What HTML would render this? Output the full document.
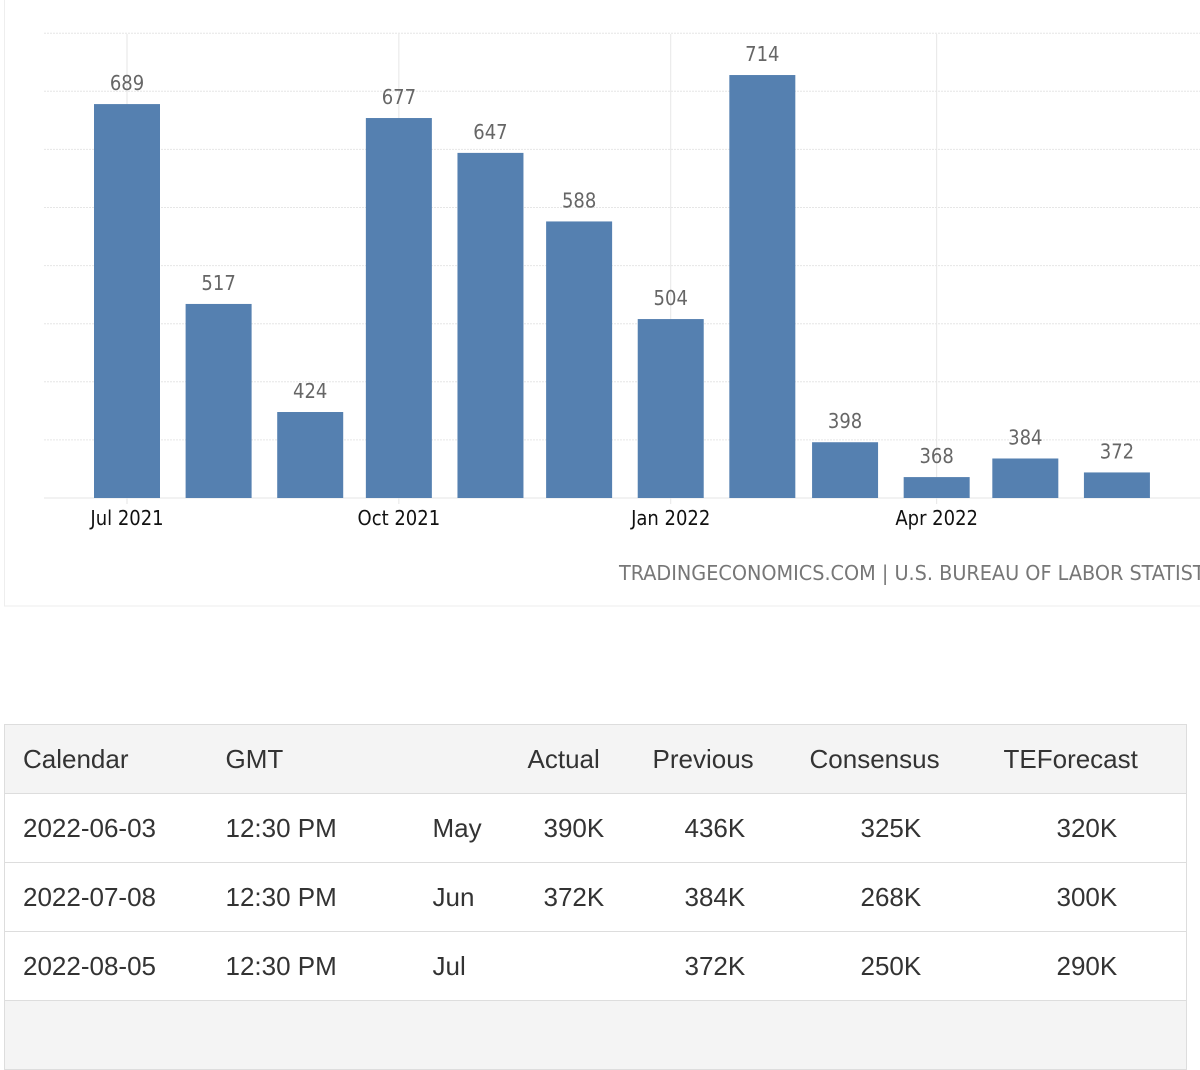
<!DOCTYPE html>
<html><head><meta charset="utf-8">
<style>
body{margin:0;width:1200px;height:1013px;background:#fff;overflow:hidden;position:relative;font-family:"Liberation Sans",sans-serif}
#chart{position:absolute;left:0;top:0}
table{position:absolute;left:4px;top:724px;width:1183px;table-layout:fixed;border-collapse:collapse;font-size:26px;color:#333;border:1px solid #ddd}
td,th{font-weight:normal;height:68px;border-top:1px solid #ddd;padding:0;text-align:left;white-space:nowrap}
thead tr{background:#f4f4f4}
</style></head><body>
<svg id="chart" width="1200" height="620" xmlns="http://www.w3.org/2000/svg">
<rect x="4.5" y="-2" width="1300" height="608" fill="none" stroke="#eee"/>
<g id="grid"></g><g id="bars"></g><g id="xlab"></g>
<text x="619" y="580" textLength="617" lengthAdjust="spacingAndGlyphs" font-family="DejaVu Sans Condensed, Liberation Sans Narrow, sans-serif" font-size="20" fill="#777">TRADINGECONOMICS.COM | U.S. BUREAU OF LABOR STATISTICS</text>
</svg>
<table>
<colgroup><col style="width:203px"><col style="width:205px"><col style="width:98px"><col style="width:125px"><col style="width:155px"><col style="width:195px"><col></colgroup>
<thead><tr><th style="padding-left:18px">Calendar</th><th style="padding-left:18px">GMT</th><th></th><th style="padding-left:17px">Actual</th><th style="padding-left:17px">Previous</th><th style="padding-left:19px">Consensus</th><th style="padding-left:18px">TEForecast</th></tr></thead>
<tbody>
<tr><td style="padding-left:18px">2022-06-03</td><td style="padding-left:18px">12:30 PM</td><td style="padding-left:20px">May</td><td style="padding-left:33px">390K</td><td style="padding-left:49px">436K</td><td style="padding-left:70px">325K</td><td style="padding-left:71px">320K</td></tr>
<tr><td style="padding-left:18px">2022-07-08</td><td style="padding-left:18px">12:30 PM</td><td style="padding-left:20px">Jun</td><td style="padding-left:33px">372K</td><td style="padding-left:49px">384K</td><td style="padding-left:70px">268K</td><td style="padding-left:71px">300K</td></tr>
<tr><td style="padding-left:18px">2022-08-05</td><td style="padding-left:18px">12:30 PM</td><td style="padding-left:20px">Jul</td><td></td><td style="padding-left:49px">372K</td><td style="padding-left:70px">250K</td><td style="padding-left:71px">290K</td></tr>
<tr style="background:#f4f4f4"><td colspan="7"></td></tr>
</tbody></table>
<script>
const months=["2021-07-01","2021-08-01","2021-09-01","2021-10-01","2021-11-01","2021-12-01","2022-01-01","2022-02-01","2022-03-01","2022-04-01","2022-05-01","2022-06-01"];
const values=[689,517,424,677,647,588,504,714,398,368,384,372];
const yTicks=[350,400,450,500,550,600,650,700,750];
const xTicks=["2021-07-01","2021-10-01","2022-01-01","2022-04-01"];
const xTickLabels=["Jul 2021","Oct 2021","Jan 2022","Apr 2022"];
const NS="http://www.w3.org/2000/svg";
const t0=Date.parse("2021-07-01");
function x(d){return 127+(Date.parse(d)-t0)/86400000*2.955;}
function y(v){return 498-(v-350)*1.162;}
function mk(tag,attrs,parent){const e=document.createElementNS(NS,tag);for(const k in attrs)e.setAttribute(k,attrs[k]);parent.appendChild(e);return e;}
const grid=document.getElementById('grid'),bars=document.getElementById('bars'),xlab=document.getElementById('xlab');
yTicks.forEach(v=>{const l=mk('line',{x1:44,x2:1200,y1:y(v),y2:y(v),stroke:'#e6e6e6','stroke-dasharray':v===350?'':'2,1'},grid);

});
xTicks.forEach((d,i)=>{const l=mk('line',{x1:x(d),x2:x(d),y1:34,y2:504,stroke:'#e6e6e6'},grid);


const t=mk('text',{x:x(d),y:525,'text-anchor':'middle','font-family':'DejaVu Sans Condensed, DejaVu Sans, sans-serif','font-size':20,fill:'#111'},xlab);
t.textContent=xTickLabels[i];

});
values.forEach((v,i)=>{const cx=x(months[i]);
const r=mk('rect',{x:cx-33,y:y(v),width:66,height:498-y(v),fill:'#5580b0'},bars);


const t=mk('text',{x:cx,y:y(v)-14,'text-anchor':'middle','font-family':'DejaVu Sans Condensed, DejaVu Sans, sans-serif','font-size':20,fill:'#666'},bars);
t.textContent=v;

});
</script>
</body></html>
